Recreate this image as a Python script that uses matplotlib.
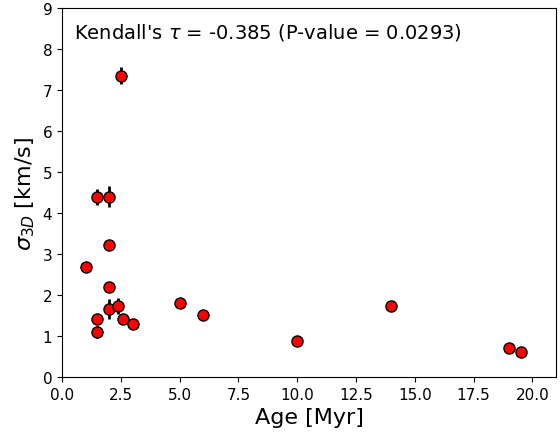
import numpy as np
import matplotlib
matplotlib.use("Agg")
import matplotlib.pyplot as plt

# Age [Myr] and 3D velocity dispersion [km/s]
age = [1.0, 1.5, 2.0, 2.0, 2.0, 2.0, 2.4, 2.5, 1.5, 1.5, 2.6, 3.0, 5.0, 6.0, 10.0, 14.0, 19.0, 19.5]
sigma3d = [2.68, 4.39, 4.40, 3.22, 2.20, 1.66, 1.73, 7.35, 1.42, 1.10, 1.42, 1.30, 1.80, 1.51, 0.88, 1.72, 0.71, 0.61]
sigma_err = [0.05, 0.20, 0.25, 0.05, 0.12, 0.25, 0.20, 0.20, 0.10, 0.15, 0.08, 0.05, 0.05, 0.05, 0.05, 0.05, 0.05, 0.05]

tau = -0.385
pval = 0.0293

fig = plt.figure(figsize=(5.6, 4.35), dpi=100)
ax = fig.add_axes([62/560, 1 - 378/435, (556-62)/560, (378-9)/435])

ax.errorbar(age, sigma3d, yerr=sigma_err, fmt='o', color='k', ecolor='k',
            mfc='red', mec='k', ms=8, elinewidth=2, zorder=3)

ax.text(0.024, 0.965, f"Kendall's $\\tau$ = {tau} (P-value = {pval})",
        transform=ax.transAxes, fontsize=14, va='top', ha='left')

ax.set_xlim(0, 21)
ax.set_ylim(0, 9)
ax.set_xticks(np.arange(0, 20.1, 2.5))
ax.set_xlabel('Age [Myr]', fontsize=16)
ax.set_ylabel(r'$\sigma_{3D}$ [km/s]', fontsize=16)
ax.tick_params(labelsize=11)

plt.savefig('out.png', dpi=100)
